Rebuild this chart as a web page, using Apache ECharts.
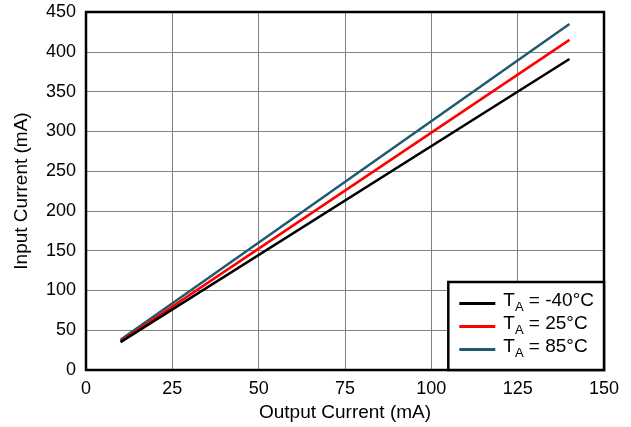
<!DOCTYPE html>
<html><head><meta charset="utf-8">
<script src="https://cdn.jsdelivr.net/npm/echarts@6/dist/echarts.min.js"></script>
<style>html,body{margin:0;padding:0;background:#fff}#c{width:631px;height:427px}</style>
</head><body><div id="c"></div>
<script>
const outputCurrent = [10, 140];
const inputM40 = [35, 391];
const input25 = [36, 415];
const input85 = [38, 435];
const seriesNames = ['T_A = -40°C', 'T_A = 25°C', 'T_A = 85°C'];
const seriesTemps = ['-40°C', '25°C', '85°C'];
const seriesColors = ['#000000', '#ff0000', '#1f5a6e'];
const seriesData = [inputM40, input25, input85];

const chart = echarts.init(document.getElementById('c'), null, {renderer: 'canvas'});
const font = 'Liberation Sans, Arial, sans-serif';
chart.setOption({
  animation: false,
  grid: {left: 86, top: 12, right: 27, bottom: 57, show: true, borderColor: '#000', borderWidth: 2.5, backgroundColor: 'transparent', z: 10},
  xAxis: {
    type: 'value', min: 0, max: 150, interval: 25,
    name: 'Output Current (mA)', nameLocation: 'middle', nameGap: 31,
    nameTextStyle: {fontFamily: font, fontSize: 19, color: '#000'},
    axisLine: {show: false}, axisTick: {show: false},
    axisLabel: {fontFamily: font, fontSize: 18, color: '#000', margin: 10},
    splitLine: {show: true, lineStyle: {color: '#808080', width: 1}}
  },
  yAxis: {
    type: 'value', min: 0, max: 450, interval: 50,
    name: 'Input Current (mA)', nameLocation: 'middle', nameGap: 55,
    nameTextStyle: {fontFamily: font, fontSize: 19, color: '#000'},
    axisLine: {show: false}, axisTick: {show: false},
    axisLabel: {fontFamily: font, fontSize: 18, color: '#000', margin: 10},
    splitLine: {show: true, lineStyle: {color: '#808080', width: 1}}
  },
  legend: {
    orient: 'vertical', right: 27, bottom: 57,
    backgroundColor: '#fff', borderColor: '#000', borderWidth: 2.5,
    padding: [9, 10, 10, 11], itemGap: 0, itemWidth: 36, itemHeight: 3,
    icon: 'rect',
    data: seriesNames,
    formatter: function (n) { return '{t|T}{s|A}{t| = ' + seriesTemps[seriesNames.indexOf(n)] + '}'; },
    textStyle: {
      fontFamily: font, fontSize: 19, color: '#000', padding: [0, 0, 0, 3],
      rich: {
        t: {fontFamily: font, fontSize: 19, color: '#000', lineHeight: 21, verticalAlign: 'bottom', padding: [0, 0, 4, 0]},
        s: {fontFamily: font, fontSize: 13, color: '#000', lineHeight: 21, verticalAlign: 'bottom'}
      }
    },
    z: 20
  },
  series: seriesNames.map(function (n, i) {
    return {
      name: n, type: 'line', showSymbol: false, symbol: 'none',
      data: outputCurrent.map(function (x, j) { return [x, seriesData[i][j]]; }),
      lineStyle: {color: seriesColors[i], width: 2.5},
      itemStyle: {color: seriesColors[i]},
      z: 5 - i
    };
  })
});
</script></body></html>
